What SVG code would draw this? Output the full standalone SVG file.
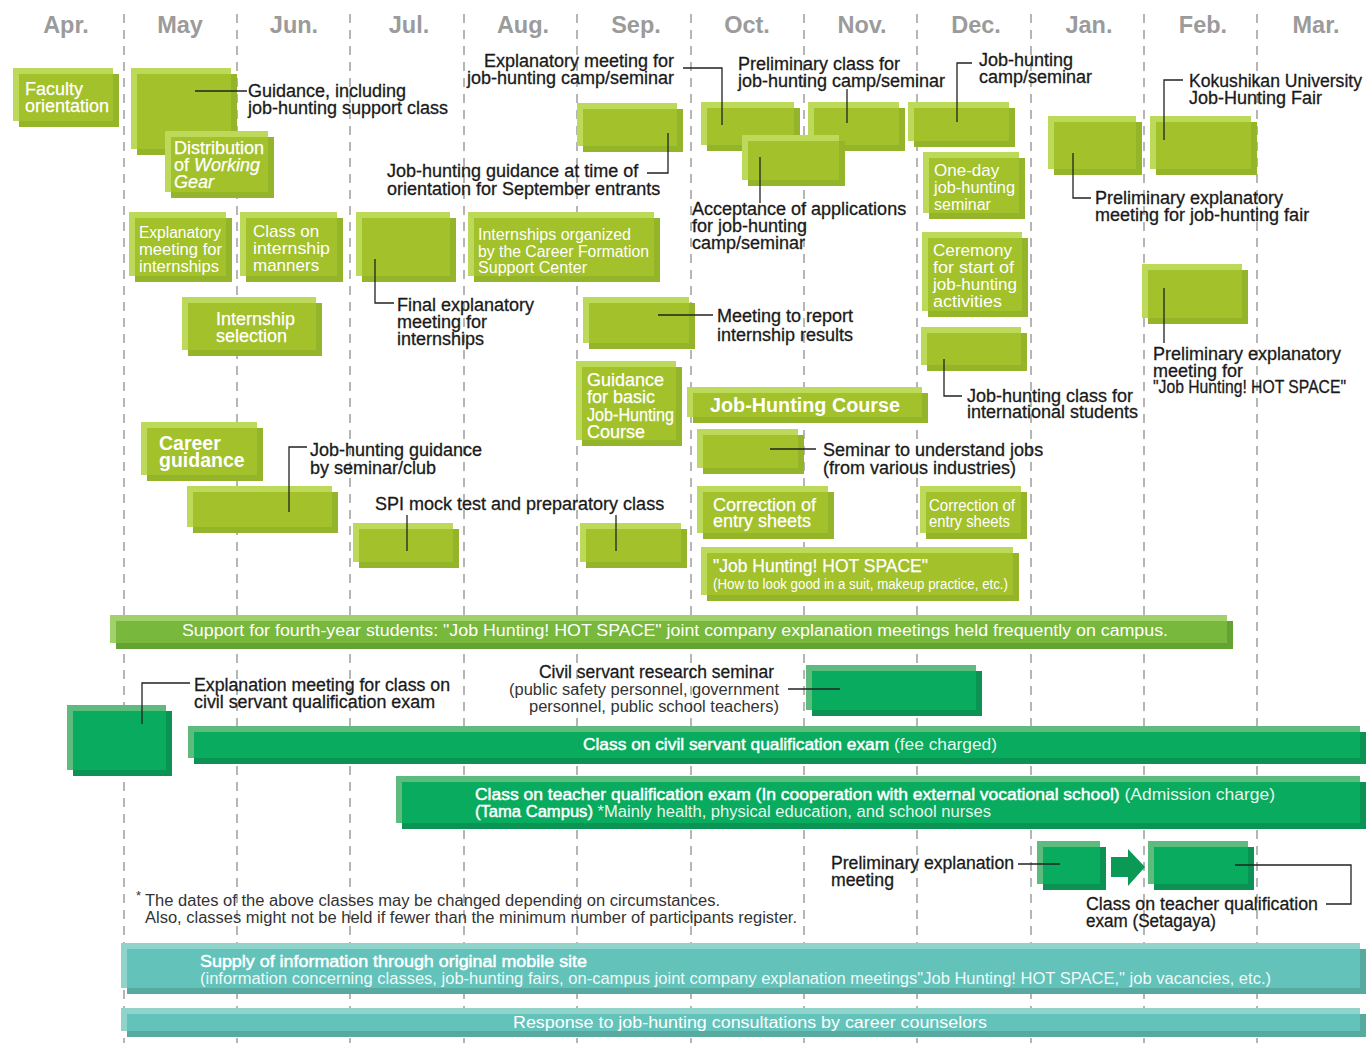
<svg xmlns="http://www.w3.org/2000/svg" width="1367" height="1043" viewBox="0 0 1367 1043">
<style>
text{font-family:"Liberation Sans",Arial,sans-serif}
.mon{font-size:23.5px;font-weight:bold;fill:#9b9b9b;text-anchor:middle}
.grid{stroke:#b5b5b5;stroke-width:2;stroke-dasharray:9 7}
.l{fill:#bcd95a}.m{fill:#a2c12b}.d{fill:#94b42a}
.gl{fill:#5dbb7d}.gm{fill:#09ab5f}.gd{fill:#0a9352}
.sl{fill:#a2d06a}.sm{fill:#77b83d}.sd{fill:#63a233}
.tl{fill:#8fd3cb}.tm{fill:#63c3ba}.td{fill:#58a99f}
.lb{font-size:18px;fill:#1a1a1a;stroke:#1a1a1a;stroke-width:0.3}
.wb{font-size:18px;fill:#fff;stroke:#fff;stroke-width:0.25}
.wc{font-size:16px;fill:#fff}
.wk{font-size:17px;fill:#fff}
.wbold{font-size:19.5px;font-weight:bold;fill:#fff}
.st{stroke:#fff;stroke-width:0.45}
.ld{fill:none;stroke:#222;stroke-width:1.3}
</style>
<rect width="1367" height="1043" fill="#fff"/>
<g id="grid">
<line class="grid" x1="124" y1="14" x2="124" y2="1043"/>
<line class="grid" x1="237" y1="14" x2="237" y2="1043"/>
<line class="grid" x1="350" y1="14" x2="350" y2="1043"/>
<line class="grid" x1="464" y1="14" x2="464" y2="1043"/>
<line class="grid" x1="577" y1="14" x2="577" y2="1043"/>
<line class="grid" x1="691" y1="14" x2="691" y2="1043"/>
<line class="grid" x1="804" y1="14" x2="804" y2="1043"/>
<line class="grid" x1="917" y1="14" x2="917" y2="1043"/>
<line class="grid" x1="1031" y1="14" x2="1031" y2="1043"/>
<line class="grid" x1="1144" y1="14" x2="1144" y2="1043"/>
<line class="grid" x1="1257" y1="14" x2="1257" y2="1043"/>
</g>
<g id="months">
<text class="mon" x="66" y="33">Apr.</text>
<text class="mon" x="180" y="33">May</text>
<text class="mon" x="294" y="33">Jun.</text>
<text class="mon" x="409" y="33">Jul.</text>
<text class="mon" x="523" y="33">Aug.</text>
<text class="mon" x="636" y="33">Sep.</text>
<text class="mon" x="747" y="33">Oct.</text>
<text class="mon" x="862" y="33">Nov.</text>
<text class="mon" x="976" y="33">Dec.</text>
<text class="mon" x="1089" y="33">Jan.</text>
<text class="mon" x="1203" y="33">Feb.</text>
<text class="mon" x="1316" y="33">Mar.</text>
</g>

<g id="n-faculty"><rect class="d" x="19" y="74" width="100" height="53"/><rect class="l" x="13" y="68" width="100" height="53"/><rect class="m" x="19" y="74" width="94" height="47"/>
<text class="wb" x="25" y="95">Faculty</text><text class="wb" x="25" y="112">orientation</text></g>

<g id="n-guidance"><rect class="d" x="137" y="74" width="100" height="81"/><rect class="l" x="131" y="68" width="100" height="81"/><rect class="m" x="137" y="74" width="94" height="75"/>
<text class="lb" x="248" y="97">Guidance, including</text><text class="lb" x="248" y="114">job-hunting support class</text></g>

<g id="n-gear"><rect class="d" x="171" y="137" width="103" height="61"/><rect class="l" x="165" y="131" width="103" height="61"/><rect class="m" x="171" y="137" width="97" height="55"/>
<text class="wb" x="174" y="154">Distribution</text><text class="wb" x="174" y="171">of <tspan font-style="italic">Working</tspan></text><text class="wb" x="174" y="188" font-style="italic">Gear</text></g>

<g id="n-expl-intern"><rect class="d" x="135" y="218" width="97" height="64"/><rect class="l" x="129" y="212" width="97" height="64"/><rect class="m" x="135" y="218" width="91" height="58"/>
<text class="wc" x="139" y="238" textLength="82" lengthAdjust="spacingAndGlyphs">Explanatory</text><text class="wc" x="139" y="255" textLength="83" lengthAdjust="spacingAndGlyphs">meeting for</text><text class="wc" x="139" y="272" textLength="80" lengthAdjust="spacingAndGlyphs">internships</text></g>

<g id="n-manners"><rect class="d" x="246" y="218" width="97" height="64"/><rect class="l" x="240" y="212" width="97" height="64"/><rect class="m" x="246" y="218" width="91" height="58"/>
<text class="wk" x="253" y="237">Class on</text><text class="wk" x="253" y="254" textLength="77" lengthAdjust="spacingAndGlyphs">internship</text><text class="wk" x="253" y="271">manners</text></g>

<g id="n-final"><rect class="d" x="362" y="218" width="94" height="64"/><rect class="l" x="356" y="212" width="94" height="64"/><rect class="m" x="362" y="218" width="88" height="58"/>
<text class="lb" x="397" y="311">Final explanatory</text><text class="lb" x="397" y="328">meeting for</text><text class="lb" x="397" y="345">internships</text></g>

<g id="n-intern-org"><rect class="d" x="474" y="218" width="186" height="64"/><rect class="l" x="468" y="212" width="186" height="64"/><rect class="m" x="474" y="218" width="180" height="58"/>
<text class="wc" x="478" y="240" textLength="153" lengthAdjust="spacingAndGlyphs">Internships organized</text><text class="wc" x="478" y="257" textLength="171" lengthAdjust="spacingAndGlyphs">by the Career Formation</text><text class="wc" x="478" y="273" textLength="109" lengthAdjust="spacingAndGlyphs">Support Center</text></g>

<g id="n-intern-sel"><rect class="d" x="188" y="303" width="134" height="53"/><rect class="l" x="182" y="297" width="134" height="53"/><rect class="m" x="188" y="303" width="128" height="47"/>
<text class="wb" x="216" y="325">Internship</text><text class="wb" x="216" y="342">selection</text></g>

<g id="n-sep"><rect class="d" x="583" y="109" width="100" height="43"/><rect class="l" x="577" y="103" width="100" height="43"/><rect class="m" x="583" y="109" width="94" height="37"/>
<text class="lb" x="387" y="177">Job-hunting guidance at time of</text><text class="lb" x="387" y="195">orientation for September entrants</text></g>

<g id="n-oct"><rect class="d" x="707" y="108" width="93" height="43"/><rect class="l" x="701" y="102" width="93" height="43"/><rect class="m" x="707" y="108" width="87" height="37"/>
<text class="lb" x="674" y="67" text-anchor="end">Explanatory meeting for</text><text class="lb" x="674" y="84" text-anchor="end">job-hunting camp/seminar</text></g>

<g id="n-nov"><rect class="d" x="814" y="108" width="91" height="43"/><rect class="l" x="808" y="102" width="91" height="43"/><rect class="m" x="814" y="108" width="85" height="37"/>
<text class="lb" x="738" y="70">Preliminary class for</text><text class="lb" x="738" y="87">job-hunting camp/seminar</text></g>

<g id="n-accept"><rect class="d" x="748" y="141" width="97" height="45"/><rect class="l" x="742" y="135" width="97" height="45"/><rect class="m" x="748" y="141" width="91" height="39"/>
<text class="lb" x="692" y="215">Acceptance of applications</text><text class="lb" x="692" y="232">for job-hunting</text><text class="lb" x="692" y="249">camp/seminar</text></g>

<g id="n-dec"><rect class="d" x="914" y="108" width="101" height="39"/><rect class="l" x="908" y="102" width="101" height="39"/><rect class="m" x="914" y="108" width="95" height="33"/>
<text class="lb" x="979" y="66">Job-hunting</text><text class="lb" x="979" y="83">camp/seminar</text></g>

<g id="n-jan"><rect class="d" x="1054" y="122" width="88" height="53"/><rect class="l" x="1048" y="116" width="88" height="53"/><rect class="m" x="1054" y="122" width="82" height="47"/>
<text class="lb" x="1095" y="204">Preliminary explanatory</text><text class="lb" x="1095" y="221">meeting for job-hunting fair</text></g>

<g id="n-feb"><rect class="d" x="1156" y="122" width="101" height="53"/><rect class="l" x="1150" y="116" width="101" height="53"/><rect class="m" x="1156" y="122" width="95" height="47"/>
<text class="lb" x="1189" y="87" textLength="173" lengthAdjust="spacingAndGlyphs">Kokushikan University</text><text class="lb" x="1189" y="104">Job-Hunting Fair</text></g>

<g id="n-oneday"><rect class="d" x="929" y="158" width="96" height="61"/><rect class="l" x="923" y="152" width="96" height="61"/><rect class="m" x="929" y="158" width="90" height="55"/>
<text class="wk" x="934" y="176">One-day</text><text class="wc" x="934" y="193" textLength="81" lengthAdjust="spacingAndGlyphs">job-hunting</text><text class="wc" x="934" y="210">seminar</text></g>

<g id="n-ceremony"><rect class="d" x="928" y="238" width="100" height="79"/><rect class="l" x="922" y="232" width="100" height="79"/><rect class="m" x="928" y="238" width="94" height="73"/>
<text class="wc" x="933" y="256" textLength="79" lengthAdjust="spacingAndGlyphs">Ceremony</text><text class="wc" x="933" y="273" textLength="81" lengthAdjust="spacingAndGlyphs">for start of</text><text class="wc" x="933" y="290" textLength="84" lengthAdjust="spacingAndGlyphs">job-hunting</text><text class="wc" x="933" y="307" textLength="69" lengthAdjust="spacingAndGlyphs">activities</text></g>

<g id="n-intl"><rect class="d" x="927" y="333" width="100" height="38"/><rect class="l" x="921" y="327" width="100" height="38"/><rect class="m" x="927" y="333" width="94" height="32"/>
<text class="lb" x="967" y="402">Job-hunting class for</text><text class="lb" x="967" y="418">international students</text></g>

<g id="n-hotpre"><rect class="d" x="1148" y="270" width="100" height="54"/><rect class="l" x="1142" y="264" width="100" height="54"/><rect class="m" x="1148" y="270" width="94" height="48"/>
<text class="lb" x="1153" y="360">Preliminary explanatory</text><text class="lb" x="1153" y="377">meeting for</text><text class="lb" x="1153" y="393" textLength="193" lengthAdjust="spacingAndGlyphs">"Job Hunting! HOT SPACE"</text></g>

<g id="n-report"><rect class="d" x="589" y="303" width="106" height="46"/><rect class="l" x="583" y="297" width="106" height="46"/><rect class="m" x="589" y="303" width="100" height="40"/>
<text class="lb" x="717" y="322">Meeting to report</text><text class="lb" x="717" y="341">internship results</text></g>

<g id="n-basic"><rect class="d" x="582" y="367" width="100" height="79"/><rect class="l" x="576" y="361" width="100" height="79"/><rect class="m" x="582" y="367" width="94" height="73"/>
<text class="wb" x="587" y="386">Guidance</text><text class="wb" x="587" y="403">for basic</text><text class="wb" x="587" y="421" textLength="87" lengthAdjust="spacingAndGlyphs">Job-Hunting</text><text class="wb" x="587" y="438">Course</text></g>

<g id="n-course"><rect class="d" x="693" y="393" width="235" height="30"/><rect class="l" x="687" y="387" width="235" height="30"/><rect class="m" x="693" y="393" width="229" height="24"/>
<text class="wbold" x="710" y="412" textLength="190" lengthAdjust="spacingAndGlyphs">Job-Hunting Course</text></g>

<g id="n-semjobs"><rect class="d" x="703" y="435" width="101" height="39"/><rect class="l" x="697" y="429" width="101" height="39"/><rect class="m" x="703" y="435" width="95" height="33"/>
<text class="lb" x="823" y="456">Seminar to understand jobs</text><text class="lb" x="823" y="474">(from various industries)</text></g>

<g id="n-career"><rect class="d" x="147" y="428" width="116" height="53"/><rect class="l" x="141" y="422" width="116" height="53"/><rect class="m" x="147" y="428" width="110" height="47"/>
<text class="wbold" x="159" y="450">Career</text><text class="wbold" x="159" y="467">guidance</text></g>

<g id="n-semclub"><rect class="d" x="193" y="492" width="145" height="41"/><rect class="l" x="187" y="486" width="145" height="41"/><rect class="m" x="193" y="492" width="139" height="35"/>
<text class="lb" x="310" y="456">Job-hunting guidance</text><text class="lb" x="310" y="474">by seminar/club</text></g>

<g id="n-spi1"><rect class="d" x="359" y="529" width="100" height="39"/><rect class="l" x="353" y="523" width="100" height="39"/><rect class="m" x="359" y="529" width="94" height="33"/>
<text class="lb" x="375" y="510">SPI mock test and preparatory class</text></g>

<g id="n-spi2"><rect class="d" x="586" y="529" width="101" height="39"/><rect class="l" x="580" y="523" width="101" height="39"/><rect class="m" x="586" y="529" width="95" height="33"/></g>

<g id="n-corr1"><rect class="d" x="703" y="492" width="131" height="47"/><rect class="l" x="697" y="486" width="131" height="47"/><rect class="m" x="703" y="492" width="125" height="41"/>
<text class="wb" x="713" y="511">Correction of</text><text class="wb" x="713" y="527">entry sheets</text></g>

<g id="n-corr2"><rect class="d" x="926" y="492" width="101" height="47"/><rect class="l" x="920" y="486" width="101" height="47"/><rect class="m" x="926" y="492" width="95" height="41"/>
<text class="wc" x="929" y="511" textLength="86" lengthAdjust="spacingAndGlyphs">Correction of</text><text class="wc" x="929" y="527" textLength="81" lengthAdjust="spacingAndGlyphs">entry sheets</text></g>

<g id="n-hotspace"><rect class="d" x="707" y="553" width="312" height="48"/><rect class="l" x="701" y="547" width="312" height="48"/><rect class="m" x="707" y="553" width="306" height="42"/>
<text class="wb" x="713" y="572" textLength="215" lengthAdjust="spacingAndGlyphs">"Job Hunting! HOT SPACE"</text><text x="713" y="589" style="font-size:14px;fill:#fff" textLength="295" lengthAdjust="spacingAndGlyphs">(How to look good in a suit, makeup practice, etc.)</text></g>

<g id="bar-support"><rect class="sd" x="116" y="621" width="1117" height="28"/><rect class="sl" x="110" y="615" width="1117" height="28"/><rect class="sm" x="116" y="621" width="1111" height="22"/>
<text class="wc" x="182" y="636" textLength="986" lengthAdjust="spacingAndGlyphs">Support for fourth-year students: "Job Hunting! HOT SPACE" joint company explanation meetings held frequently on campus.</text></g>

<g id="n-civexpl"><rect class="gd" x="73" y="711" width="99" height="65"/><rect class="gl" x="67" y="705" width="99" height="65"/><rect class="gm" x="73" y="711" width="93" height="59"/>
<text class="lb" x="194" y="691" textLength="256" lengthAdjust="spacingAndGlyphs">Explanation meeting for class on</text><text class="lb" x="194" y="708" textLength="241" lengthAdjust="spacingAndGlyphs">civil servant qualification exam</text></g>

<g id="n-civsem"><rect class="gd" x="812" y="671" width="170" height="45"/><rect class="gl" x="806" y="665" width="170" height="45"/><rect class="gm" x="812" y="671" width="164" height="39"/>
<text class="lb" x="774" y="678" text-anchor="end" textLength="235" lengthAdjust="spacingAndGlyphs">Civil servant research seminar</text>
<text x="779" y="695" text-anchor="end" font-size="16" fill="#333" textLength="270" lengthAdjust="spacingAndGlyphs">(public safety personnel, government</text>
<text x="779" y="712" text-anchor="end" font-size="16" fill="#333" textLength="250" lengthAdjust="spacingAndGlyphs">personnel, public school teachers)</text></g>

<g id="bar-civil"><rect class="gd" x="194" y="732" width="1172" height="32"/><rect class="gl" x="188" y="726" width="1172" height="32"/><rect class="gm" x="194" y="732" width="1166" height="26"/>
<text class="wc" x="583" y="750" textLength="414" lengthAdjust="spacingAndGlyphs"><tspan class="st">Class on civil servant qualification exam</tspan><tspan fill-opacity="0.92"> (fee charged)</tspan></text></g>

<g id="bar-teacher"><rect class="gd" x="402" y="782" width="964" height="47"/><rect class="gl" x="396" y="776" width="964" height="47"/><rect class="gm" x="402" y="782" width="958" height="41"/>
<text class="wc" x="475" y="800" textLength="800" lengthAdjust="spacingAndGlyphs"><tspan class="st">Class on teacher qualification exam (In cooperation with external vocational school)</tspan><tspan fill-opacity="0.92"> (Admission charge)</tspan></text>
<text class="wc" x="475" y="817" textLength="516" lengthAdjust="spacingAndGlyphs"><tspan class="st">(Tama Campus)</tspan><tspan fill-opacity="0.92"> *Mainly health, physical education, and school nurses</tspan></text></g>

<g id="n-tpre"><rect class="gd" x="1043" y="847" width="63" height="43"/><rect class="gl" x="1037" y="841" width="63" height="43"/><rect class="gm" x="1043" y="847" width="57" height="37"/>
<text class="lb" x="831" y="869" textLength="183" lengthAdjust="spacingAndGlyphs">Preliminary explanation</text><text class="lb" x="831" y="886" textLength="63" lengthAdjust="spacingAndGlyphs">meeting</text></g>

<g id="n-tset"><rect class="gd" x="1154" y="847" width="100" height="43"/><rect class="gl" x="1148" y="841" width="100" height="43"/><rect class="gm" x="1154" y="847" width="94" height="37"/>
<text class="lb" x="1086" y="910" textLength="232" lengthAdjust="spacingAndGlyphs">Class on teacher qualification</text><text class="lb" x="1086" y="927" textLength="130" lengthAdjust="spacingAndGlyphs">exam (Setagaya)</text></g>

<g id="footnote">
<text x="136" y="900" font-size="13" fill="#333">*</text>
<text x="145" y="906" font-size="16" fill="#333" textLength="575" lengthAdjust="spacingAndGlyphs">The dates of the above classes may be changed depending on circumstances.</text>
<text x="145" y="923" font-size="16" fill="#333" textLength="652" lengthAdjust="spacingAndGlyphs">Also, classes might not be held if fewer than the minimum number of participants register.</text>
</g>

<g id="bar-mobile"><rect class="td" x="127" y="949" width="1239" height="45"/><rect class="tl" x="121" y="943" width="1239" height="45"/><rect class="tm" x="127" y="949" width="1233" height="39"/>
<text class="wc st" x="200" y="967" textLength="387" lengthAdjust="spacingAndGlyphs">Supply of information through original mobile site</text>
<text class="wc" x="200" y="984" fill-opacity="0.92" textLength="1071" lengthAdjust="spacingAndGlyphs">(information concerning classes, job-hunting fairs, on-campus joint company explanation meetings"Job Hunting! HOT SPACE," job vacancies, etc.)</text></g>

<g id="bar-counsel"><rect class="td" x="127" y="1014" width="1239" height="23"/><rect class="tl" x="121" y="1008" width="1239" height="23"/><rect class="tm" x="127" y="1014" width="1233" height="17"/>
<text class="wc" x="513" y="1028" textLength="474" lengthAdjust="spacingAndGlyphs">Response to job-hunting consultations by career counselors</text></g>

<g id="connectors">
<path class="ld" d="M195,91H247"/>
<path class="ld" d="M668,133V173H647"/>
<path class="ld" d="M683,68H722V125"/>
<path class="ld" d="M847,89V123"/>
<path class="ld" d="M760,157V203"/>
<path class="ld" d="M957,122V63H972"/>
<path class="ld" d="M1073,153V198H1091"/>
<path class="ld" d="M1164,140V80H1183"/>
<path class="ld" d="M375,259V303H394"/>
<path class="ld" d="M658,315H713"/>
<path class="ld" d="M944,359V396H962"/>
<path class="ld" d="M1164,288V343"/>
<path class="ld" d="M770,449H816"/>
<path class="ld" d="M289,512V447H307"/>
<path class="ld" d="M407,515V551"/>
<path class="ld" d="M616,515V551"/>
<path class="ld" d="M142,724V683H190"/>
<path class="ld" d="M788,689H840"/>
<path class="ld" d="M1018,864H1060"/>
<path class="ld" d="M1235,865H1351V904H1326"/>
<polygon points="1111,857 1128,857 1128,849 1145,867 1128,886 1128,877 1111,877" fill="#0a9a55"/>
</g>
</svg>
